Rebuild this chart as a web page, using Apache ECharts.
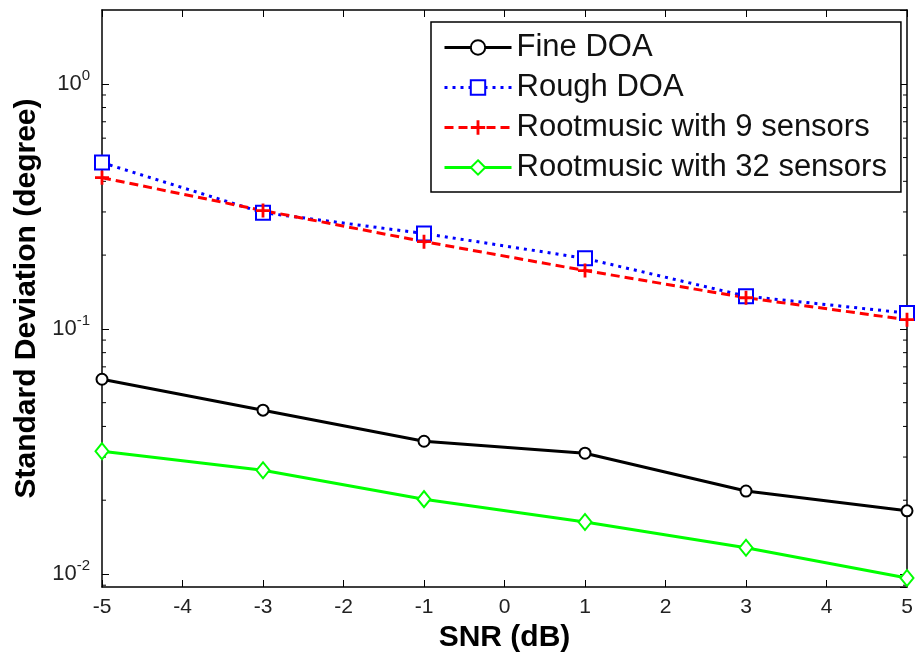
<!DOCTYPE html>
<html>
<head>
<meta charset="utf-8">
<script src="https://cdn.jsdelivr.net/npm/echarts@6/dist/echarts.min.js"></script>
<style>
html,body{margin:0;padding:0;background:#fff;}
#chart{width:917px;height:652px;}
</style>
</head>
<body>
<div id="chart"></div>
<script>
const snr = [-5, -3, -1, 1, 3, 5];
const fineDOA = [0.0623, 0.0466, 0.0348, 0.0311, 0.0218, 0.0181];
const roughDOA = [0.477, 0.298, 0.245, 0.194, 0.136, 0.116];
const rootmusic9 = [0.414, 0.304, 0.227, 0.173, 0.134, 0.109];
const rootmusic32 = [0.0317, 0.0265, 0.0202, 0.0163, 0.0128, 0.00963];
const seriesNames = ['Fine DOA', 'Rough DOA', 'Rootmusic with 9 sensors', 'Rootmusic with 32 sensors'];
const yMin = 0.00885, yMax = 2;
const xMin = -5, xMax = 5;

const minorVals = [];
for (let e = -3; e <= 0; e++) {
  for (let k = 2; k <= 9; k++) {
    const v = k * Math.pow(10, e);
    if (v > yMin && v < yMax) minorVals.push(v);
  }
}

const pair = (ys) => snr.map((x, i) => [x, ys[i]]);
const font = 'Liberation Sans, Arial, Helvetica, sans-serif';
const plusPath = 'path://M4,0H6V4H10V6H6V10H4V6H0V4H4Z';

const chart = echarts.init(document.getElementById('chart'), null, {renderer: 'canvas'});
const yLabelCfg = {
  show: true,
  margin: 12,
  showMinLabel: false,
  showMaxLabel: false,
  formatter: function (v) {
    const e = Math.round(Math.log10(v));
    return '{b|10}{s|' + e + '}';
  },
  rich: {
    b: {fontSize: 22, fontFamily: font, color: '#222'},
    s: {fontSize: 15, fontFamily: font, color: '#222', verticalAlign: 'bottom', padding: [0, 0, 16, 0]}
  }
};

chart.setOption({
  backgroundColor: '#fff',
  animation: false,
  grid: {left: 102, right: 10, top: 10, bottom: 65, show: false, containLabel: false, outerBoundsMode: 'none'},
  legend: {
    data: seriesNames,
    orient: 'vertical',
    left: 431,
    top: 22,
    padding: [10, 14, 9, 12],
    itemWidth: 67,
    itemHeight: 18,
    itemGap: 9,
    backgroundColor: '#fff',
    borderColor: '#000',
    borderWidth: 1.5,
    lineStyle: {width: 3},
    textStyle: {fontSize: 31, fontFamily: font, color: '#111', lineHeight: 30}
  },
  xAxis: [{
    type: 'value', min: xMin, max: xMax, interval: 1,
    position: 'bottom',
    name: 'SNR (dB)', nameLocation: 'middle', nameGap: 30,
    nameTextStyle: {fontSize: 30, fontWeight: 'bold', fontFamily: font, color: '#000'},
    axisLine: {show: true, onZero: false, lineStyle: {color: '#000', width: 1.5}},
    axisTick: {show: true, inside: true, length: 7, lineStyle: {color: '#000', width: 1}},
    axisLabel: {fontSize: 21, fontFamily: font, color: '#222', margin: 10},
    splitLine: {show: false}
  }, {
    type: 'value', min: xMin, max: xMax, interval: 1,
    position: 'top',
    axisLine: {show: true, onZero: false, lineStyle: {color: '#000', width: 1.5}},
    axisTick: {show: true, inside: true, length: 7, lineStyle: {color: '#000', width: 1}},
    axisLabel: {show: false},
    splitLine: {show: false}
  }],
  yAxis: [{
    type: 'log', logBase: 10, min: yMin, max: yMax,
    position: 'left',
    name: 'Standard Deviation (degree)', nameLocation: 'middle', nameGap: 58,
    nameTextStyle: {fontSize: 30, fontWeight: 'bold', fontFamily: font, color: '#000'},
    axisLine: {show: true, onZero: false, lineStyle: {color: '#000', width: 1.5}},
    axisTick: {show: true, inside: true, length: 7, lineStyle: {color: '#000', width: 1}},
    axisLabel: yLabelCfg,
    splitLine: {show: false}
  }, {
    type: 'log', logBase: 10, min: yMin, max: yMax,
    position: 'right',
    axisLine: {show: true, onZero: false, lineStyle: {color: '#000', width: 1.5}},
    axisTick: {show: true, inside: true, length: 7, lineStyle: {color: '#000', width: 1}},
    axisLabel: {show: false},
    splitLine: {show: false}
  }],
  series: [
    {
      name: seriesNames[0], type: 'line', data: pair(fineDOA),
      symbol: 'emptyCircle', symbolSize: 11,
      lineStyle: {color: '#000', width: 3, type: 'solid'},
      itemStyle: {color: '#000', borderColor: '#000', borderWidth: 2.5}
    },
    {
      name: seriesNames[1], type: 'line', data: pair(roughDOA),
      symbol: 'emptyRect', symbolSize: 14,
      lineStyle: {color: '#0000ff', width: 3, type: [3, 5]},
      itemStyle: {color: '#0000ff', borderColor: '#0000ff', borderWidth: 3}
    },
    {
      name: seriesNames[2], type: 'line', data: pair(rootmusic9),
      symbol: plusPath, symbolSize: 14,
      lineStyle: {color: '#ff0000', width: 3, type: [9, 5]},
      itemStyle: {color: '#ff0000', borderWidth: 0}
    },
    {
      name: seriesNames[3], type: 'line', data: pair(rootmusic32),
      symbol: 'emptyDiamond', symbolSize: [13, 16],
      lineStyle: {color: '#00ff00', width: 3, type: 'solid'},
      itemStyle: {color: '#00ff00', borderColor: '#00ff00', borderWidth: 2.5}
    },
    {
      name: 'minorTicks', type: 'custom', silent: true,
      data: minorVals.map(v => [xMin, v]),
      renderItem: function (params, api) {
        const p = api.coord([xMin, api.value(1)]);
        const q = api.coord([xMax, api.value(1)]);
        return {
          type: 'group',
          children: [
            {type: 'line', shape: {x1: p[0], y1: p[1], x2: p[0] + 4, y2: p[1]}, style: {stroke: '#000', lineWidth: 1}},
            {type: 'line', shape: {x1: q[0] - 4, y1: q[1], x2: q[0], y2: q[1]}, style: {stroke: '#000', lineWidth: 1}}
          ]
        };
      }
    }
  ]
});
</script>
</body>
</html>
